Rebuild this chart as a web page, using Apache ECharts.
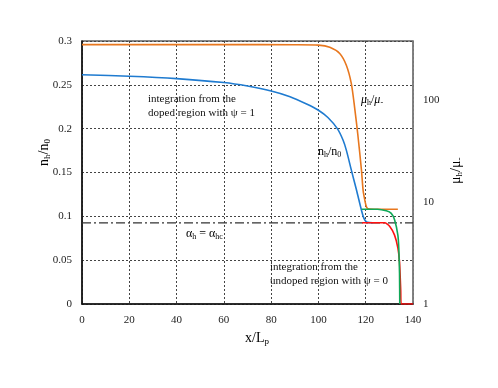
<!DOCTYPE html>
<html>
<head>
<meta charset="utf-8">
<script src="https://cdn.jsdelivr.net/npm/echarts@6/dist/echarts.min.js"></script>
<style>html,body{margin:0;padding:0;background:#fff}#c{width:498px;height:388px}</style>
</head>
<body>
<div id="c"></div>
<script>
// x ticks
var xTicks = [0, 20, 40, 60, 80, 100, 120, 140];
// n_h/n_0 from doped region (left axis)
var blueX = [0, 20, 40, 60, 70, 80, 88, 95, 100, 104, 108, 110.4, 111.8, 113.9, 116.1, 118.2, 119.2, 120.3, 121.5, 123];
var blueY = [0.2615, 0.2598, 0.2571, 0.2526, 0.2486, 0.243, 0.2365, 0.2281, 0.221, 0.2127, 0.200, 0.187, 0.1755, 0.153, 0.130, 0.107, 0.098, 0.0938, 0.0928, 0.0926];
// mu_h/mu_- from doped region (right axis, log)
var orangeX = [0, 60, 90, 100, 104.8, 109, 111.8, 113.9, 115.3, 116.7, 118.2, 118.9, 119.6, 120.3, 121, 125, 133.6];
var orangeY = [350, 350, 349, 346, 330, 287, 220, 146, 85, 45, 20.6, 13, 10.5, 9.0, 8.6, 8.5, 8.5];
// mu_h/mu_- from undoped region (right axis, log)
var greenX = [118.3, 125, 128.7, 130.8, 132.2, 133.6, 134.0, 134.3, 134.4];
var greenY = [8.5, 8.5, 8.2, 7.75, 6.7, 4.75, 3.5, 2.0, 1];
// n_h/n_0 from undoped region (left axis)
var redX = [118.5, 128, 130.1, 132.2, 133.6, 134.3, 134.8, 135.0, 140];
var redY = [0.0926, 0.0926, 0.0888, 0.0786, 0.064, 0.048, 0.016, 0, 0];
// alpha_h = alpha_hc threshold
var alphaHc = 0.0926;

function pairs(xs, ys) { return xs.map(function (x, i) { return [x, ys[i]]; }); }

var serif = '"Liberation Serif", "Times New Roman", serif';
var gridLine = { show: true, lineStyle: { color: '#444', type: [2, 2], width: 1 } };
var subRich = {
  m: { fontFamily: serif, fontSize: 12, color: '#111' },
  mi: { fontFamily: serif, fontSize: 12, fontStyle: 'italic', color: '#111' },
  s: { fontFamily: serif, fontSize: 8, color: '#111', padding: [6, 0, 0, 0] }
};
var nameRich = {
  m: { fontFamily: serif, fontSize: 14, color: '#111' },
  mi: { fontFamily: serif, fontSize: 14, color: '#111' },
  s: { fontFamily: serif, fontSize: 9, color: '#111', padding: [7, 0, 0, 0] }
};

var chart = echarts.init(document.getElementById('c'), null, { renderer: 'canvas' });
chart.setOption({
  animation: false,
  backgroundColor: '#fff',
  grid: { left: 82, right: 85, top: 41, bottom: 84, show: true, borderColor: '#111', borderWidth: 1.2 },
  xAxis: {
    type: 'value', min: 0, max: 140, interval: 20,
    axisLine: { show: true, lineStyle: { color: '#111', width: 1.5 } },
    axisTick: { show: false },
    axisLabel: { fontFamily: serif, fontSize: 11, color: '#222', margin: 11 },
    splitLine: gridLine
  },
  yAxis: [{
    type: 'value', min: 0, max: 0.3, interval: 0.05, position: 'left',
    axisLine: { show: true, lineStyle: { color: '#111', width: 1.5 } },
    axisTick: { show: false },
    axisLabel: { fontFamily: serif, fontSize: 11, color: '#222', margin: 10 },
    splitLine: gridLine
  }, {
    type: 'log', logBase: 10, min: 1, max: 380, position: 'right',
    axisLine: { show: true, lineStyle: { color: '#888', width: 1.5 } },
    axisTick: { show: false },
    axisLabel: { fontFamily: serif, fontSize: 11, color: '#222', margin: 10,
      formatter: function (v) { return [1, 10, 100].indexOf(Math.round(v)) >= 0 ? String(Math.round(v)) : ''; } },
    splitLine: { show: false }
  }],
  series: [{
    type: 'line', data: pairs([0, 140], [alphaHc, alphaHc]), yAxisIndex: 0, symbol: 'none', z: 1,
    lineStyle: { color: '#333', width: 1.2, type: [9, 3, 2, 3] }
  }, {
    type: 'line', data: pairs(blueX, blueY), yAxisIndex: 0, symbol: 'none', smooth: 0.3,
    lineStyle: { color: '#1f7bd0', width: 1.6 }
  }, {
    type: 'line', data: pairs(orangeX, orangeY), yAxisIndex: 1, symbol: 'none', smooth: 0.25,
    lineStyle: { color: '#e8771e', width: 1.6 }
  }, {
    type: 'line', data: pairs(redX, redY), yAxisIndex: 0, symbol: 'none', smooth: 0.2,
    lineStyle: { color: '#ff1010', width: 1.6 }
  }, {
    type: 'line', data: pairs(greenX, greenY), yAxisIndex: 1, symbol: 'none', smooth: 0.2,
    lineStyle: { color: '#10a858', width: 1.6 }
  }],
  graphic: [
    { type: 'text', x: 148, y: 92, z: 100, style: { text: 'integration from the\ndoped region with ψ = 1', fontFamily: serif, fontSize: 11, lineHeight: 14, fill: '#111' } },
    { type: 'text', x: 270, y: 260, z: 100, style: { text: 'integration from the\nundoped region with ψ = 0', fontFamily: serif, fontSize: 11, lineHeight: 14, fill: '#111' } },
    { type: 'text', x: 361, y: 93, z: 100, style: { text: '{mi|μ}{s|h}{m|/}{mi|μ}{s|-}', rich: subRich } },
    { type: 'text', x: 318, y: 145, z: 100, style: { text: '{m|n}{s|h}{m|/n}{s|0}', rich: subRich } },
    { type: 'text', x: 186, y: 227, z: 100, style: { text: '{m|α}{s|h}{m| = α}{s|hc}', rich: subRich } },
    { type: 'text', x: 245, y: 330, z: 100, style: { text: '{m|x/L}{s|p}', rich: nameRich } },
    { type: 'text', x: 36, y: 166, rotation: Math.PI / 2, z: 100, style: { text: '{m|n}{s|h}{m|/n}{s|0}', rich: nameRich } },
    { type: 'text', x: 448, y: 184, rotation: Math.PI / 2, z: 100, style: { text: '{m|μ}{s|h}{m|/μ}{s|-}', rich: nameRich } }
  ]
});
</script>
</body>
</html>
